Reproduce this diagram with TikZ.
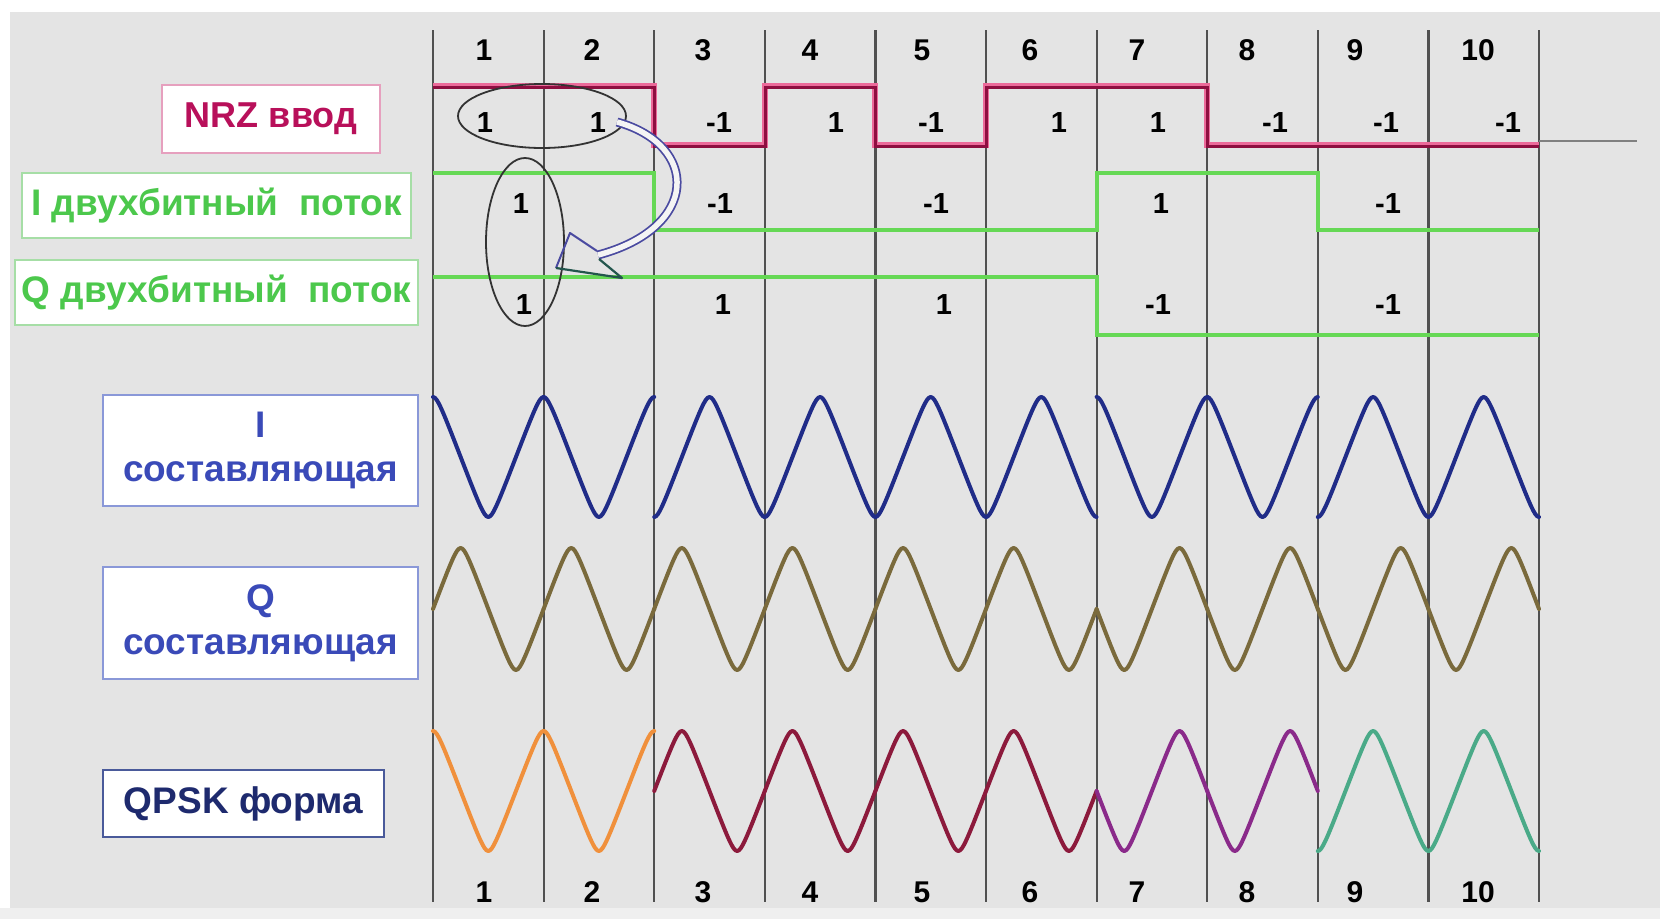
\documentclass[tikz,border=0pt]{standalone}
\usepackage{fontspec}
\setmainfont{Liberation Sans}
\usetikzlibrary{calc}
\definecolor{bggray}{HTML}{E4E4E4}
\definecolor{botgray}{HTML}{EFEFEF}
\definecolor{linegray}{HTML}{505050}
\definecolor{nrzpink}{HTML}{EC6A9A}
\definecolor{nrzdark}{HTML}{8E0E40}
\definecolor{nrztext}{HTML}{B8105A}
\definecolor{nrzbord}{HTML}{E6A0BE}
\definecolor{strgreen}{HTML}{66D855}
\definecolor{strtext}{HTML}{4CC84C}
\definecolor{strbord}{HTML}{A6DEA6}
\definecolor{comptext}{HTML}{3A4AB8}
\definecolor{compbord}{HTML}{8A98D8}
\definecolor{qpsktext}{HTML}{1E2A6E}
\definecolor{qpskbord}{HTML}{4A5A9A}
\definecolor{iwave}{HTML}{202C88}
\definecolor{qwave}{HTML}{7A6A3C}
\definecolor{worange}{HTML}{F0903C}
\definecolor{wmaroon}{HTML}{8C1A3C}
\definecolor{wpurple}{HTML}{8A2A8A}
\definecolor{wteal}{HTML}{4AAA88}
\definecolor{arrowblue}{HTML}{4A4AA0}
\tikzset{
  vline/.style={draw=linegray, line width=2.2},
  colnum/.style={font=\fontsize{30}{36}\selectfont\bfseries, text=black, inner sep=0},
  bitval/.style={font=\fontsize{29}{34}\selectfont\bfseries, text=black, inner sep=0},
  lblbox/.style={fill=white, line width=2.5, inner sep=0, align=center},
  nrzlbl/.style={lblbox, draw=nrzbord, text=nrztext, font=\fontsize{36}{40}\selectfont\bfseries},
  strlbl/.style={lblbox, draw=strbord, text=strtext, font=\fontsize{37}{40}\selectfont\bfseries},
  complbl/.style={lblbox, draw=compbord, text=comptext, font=\fontsize{37}{44}\selectfont\bfseries},
  qpsklbl/.style={lblbox, draw=qpskbord, text=qpsktext, font=\fontsize{37}{40}\selectfont\bfseries},
  streamline/.style={draw=strgreen, line width=4},
  wave/.style={line width=4, line join=round, line cap=round},
  oval/.style={draw=black!80, line width=1.8},
}
\begin{document}
\begin{tikzpicture}[x=1pt,y=-1pt]
\useasboundingbox (0,0) rectangle (1660,919);
\fill[white] (0,0) rectangle (1660,919);
\fill[bggray] (10,12) rectangle (1660,908);
\fill[botgray] (0,908) rectangle (1660,919);

% vertical grid lines
\foreach \k in {0,...,10}
  \draw[vline] ({433+110.6*\k},30) -- ({433+110.6*\k},902);

% column numbers
\foreach \n/\xx in {1/484,2/592,3/703,4/810,5/922,6/1030,7/1137,8/1247,9/1355,10/1478} {
  \node[colnum] (top\n) at (\xx,50) {\n};
  \node[colnum] (bot\n) at (\xx,892) {\n};
}

% labels
\node[nrzlbl, minimum width=218, minimum height=68] (nrz) at (271,119) {NRZ ввод};
\node[strlbl, minimum width=389, minimum height=65] (istr) at (216.5,205.5) {I двухбитный\ \ поток};
\node[strlbl, minimum width=403, minimum height=65] (qstr) at (216.5,292.5) {Q двухбитный\ \ поток};
\node[complbl, minimum width=315, minimum height=111] (icomp) at (260.5,450.5) {I\\составляющая};
\node[complbl, minimum width=315, minimum height=112] (qcomp) at (260.5,623) {Q\\составляющая};
\node[qpsklbl, minimum width=281, minimum height=67] (qpsk) at (243.5,803.5) {QPSK форма};

% NRZ signal
\draw[draw=gray, line width=2] (1539,141) -- (1637,141);
\draw[nrzpink, line width=6.5, line join=miter]
  (433,86) -- (654,86) -- (654,145) -- (765,145) -- (765,86) -- (875,86) -- (875,145)
  -- (986,145) -- (986,86) -- (1207,86) -- (1207,145) -- (1539,145);
\draw[nrzdark, line width=3, line join=miter]
  (433,87.5) -- (654,87.5) -- (654,146.5) -- (765,146.5) -- (765,87.5) -- (875,87.5) -- (875,146.5)
  -- (986,146.5) -- (986,87.5) -- (1207,87.5) -- (1207,146.5) -- (1539,146.5);

% NRZ values
\foreach \n/\xx/\v in {1/485/1,2/598/1,3/719/-1,4/836/1,5/931/-1,6/1059/1,7/1158/1,8/1275/-1,9/1386/-1,10/1508/-1}
  \node[bitval] (nv\n) at (\xx,123) {\v};

% I and Q bit streams
\draw[streamline] (433,173) -- (654,173) -- (654,230) -- (1097,230) -- (1097,173) -- (1318,173) -- (1318,230) -- (1539,230);
\draw[streamline] (433,277) -- (1097,277) -- (1097,335) -- (1539,335);
\foreach \n/\xx/\v in {1/521/1,2/720/-1,3/936/-1,4/1161/1,5/1388/-1}
  \node[bitval] (iv\n) at (\xx,204) {\v};
\foreach \n/\xx/\v in {1/524/1,2/723/1,3/944/1,4/1158/-1,5/1388/-1}
  \node[bitval] (qv\n) at (\xx,305) {\v};

% highlight ovals
\draw[oval] (542,116) ellipse [x radius=84, y radius=32];
\draw[oval] (525,242) ellipse [x radius=39, y radius=84];

% curved block arrow (outlined)
\coordinate (arrS) at (617,122);
\coordinate (arrE) at (598,255);
\draw[arrowblue, line width=9] (arrS) .. controls (700,145) and (700,228) .. (arrE);
\draw[bggray!40!white, line width=5.5] (arrS) .. controls (700,145) and (700,228) .. (arrE);
\draw[arrowblue, line width=2, line join=round]
  (597,251) -- (570,233) -- (556,268);
\draw[arrowblue!60!black!80!green, line width=2.2, line join=round]
  (556,268) -- (622,278) -- (599,259);

% I component (rounded triangle shape)
\foreach \k/\s in {0/1,1/1,2/-1,3/-1,4/-1,5/-1,6/1,7/1,8/-1,9/-1}
  \draw[wave, draw=iwave] plot[domain=0:1, samples=61, smooth]
    ({433+110.6*(\k+\x)},{457-60*\s*asin(0.95*cos(360*\x))/asin(0.95)});

% Q component
\foreach \k/\s in {0/1,1/1,2/1,3/1,4/1,5/1,6/-1,7/-1,8/-1,9/-1}
  \draw[wave, draw=qwave] plot[domain=0:1, samples=61, smooth]
    ({433+110.6*(\k+\x)},{609-61*\s*asin(0.95*sin(360*\x))/asin(0.95)});

% QPSK waveform
\foreach \k/\a/\b/\c in {0/1/0/worange,1/1/0/worange,2/0/1/wmaroon,3/0/1/wmaroon,4/0/1/wmaroon,5/0/1/wmaroon,6/0/-1/wpurple,7/0/-1/wpurple,8/-1/0/wteal,9/-1/0/wteal}
  \draw[wave, draw=\c] plot[domain=0:1, samples=61, smooth]
    ({433+110.6*(\k+\x)},{791-60*asin(0.95*(\a*cos(360*\x)+\b*sin(360*\x)))/asin(0.95)});
\end{tikzpicture}
\end{document}
